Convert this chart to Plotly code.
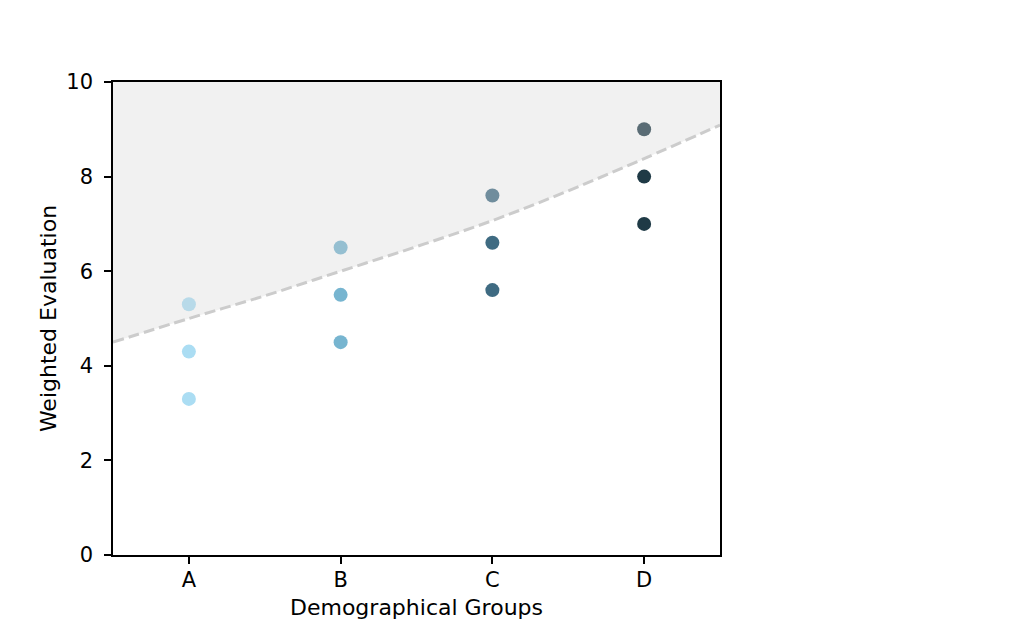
import plotly.graph_objects as go

# category positions and labels
groups = ["A", "B", "C", "D"]
group_pos = [0, 1, 2, 3]

# three evaluations per group
upper_vals = [5.3, 6.5, 7.6, 9.0]
middle_vals = [4.3, 5.5, 6.6, 8.0]
lower_vals = [3.3, 4.5, 5.6, 7.0]

group_colors = ["#abddf3", "#77b5d0", "#3f6b82", "#1f3a46"]

# dashed threshold curve
curve_x = [-0.5, 0, 0.5, 1, 1.5, 2, 2.5, 3, 3.5]
curve_y = [4.5, 5.0, 5.48, 6.0, 6.52, 7.07, 7.7, 8.38, 9.09]
y_top = 10

fig = go.Figure()

for i in range(0, len(groups)):
    fig.add_trace(go.Scatter(
        x=[group_pos[i]] * 3,
        y=[upper_vals[i], middle_vals[i], lower_vals[i]],
        mode="markers",
        marker=dict(color=group_colors[i], size=14, line=dict(width=0)),
        showlegend=False,
    ))

# shaded region above the curve, drawn on top of the points
fig.add_trace(go.Scatter(
    x=curve_x, y=[y_top] * len(curve_x),
    mode="lines", line=dict(width=0), showlegend=False, hoverinfo="skip",
))
fig.add_trace(go.Scatter(
    x=curve_x, y=curve_y,
    mode="lines", line=dict(color="rgba(211,211,211,0.3)", width=0),
    fill="tonexty", fillcolor="rgba(211,211,211,0.33)",
    line_shape="spline", showlegend=False, hoverinfo="skip",
))
fig.add_trace(go.Scatter(
    x=curve_x, y=curve_y,
    mode="lines", line=dict(color="#cccccc", width=3, dash="11px,5px"),
    line_shape="spline", showlegend=False, hoverinfo="skip",
))

axis_style = dict(
    showline=True, linecolor="black", linewidth=1.5, mirror=True,
    ticks="outside", ticklen=7, tickwidth=1.5, tickcolor="black",
    showgrid=False, zeroline=False, automargin=False,
    tickfont=dict(family="DejaVu Sans", size=21, color="black"),
)

fig.update_layout(
    width=1010, height=615,
    margin=dict(l=105, r=298, t=74, b=68),
    paper_bgcolor="white", plot_bgcolor="white",
    font=dict(family="DejaVu Sans", size=22, color="black"),
    xaxis=dict(
        range=[-0.5, 3.5], tickmode="array", tickvals=group_pos, ticktext=groups,
        ticklabelstandoff=-2,
        title=dict(text="Demographical Groups", font=dict(size=22), standoff=9),
        **axis_style,
    ),
    yaxis=dict(
        range=[0, 10], tickmode="array", tickvals=[0, 2, 4, 6, 8, 10],
        ticklabelstandoff=7,
        title=dict(text="Weighted Evaluation", font=dict(size=22), standoff=4),
        **axis_style,
    ),
)

fig.write_html("out.html")
